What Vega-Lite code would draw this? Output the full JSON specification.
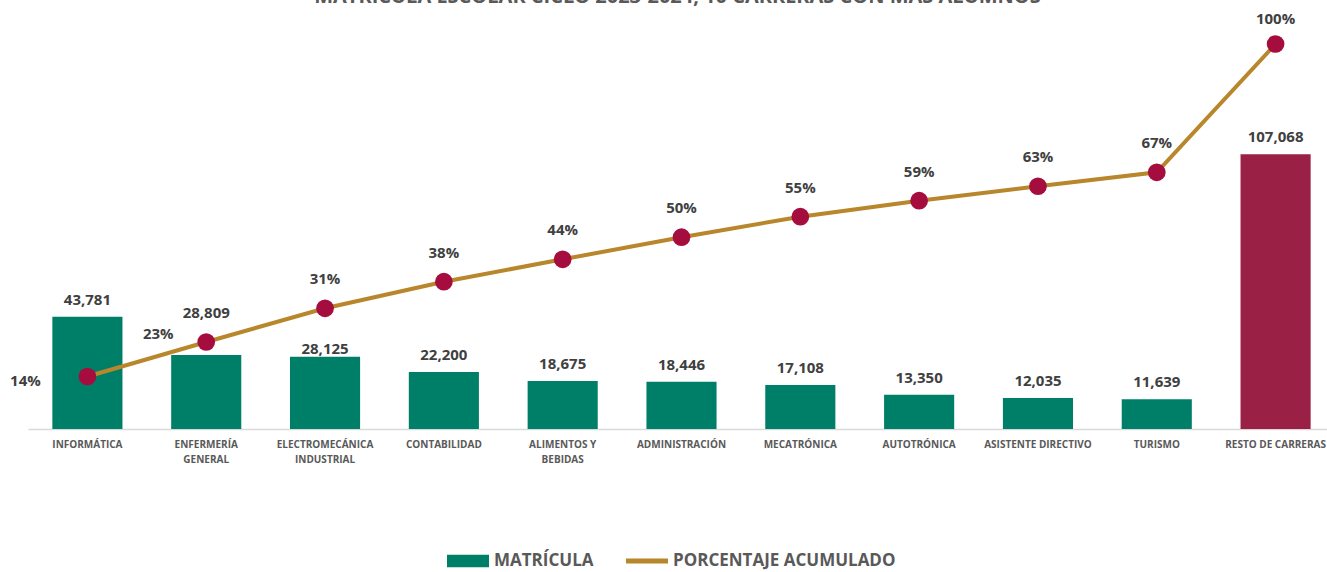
{
  "$schema": "https://vega.github.io/schema/vega-lite/v6.json",
  "autosize": {"type": "none"},
  "width": 1299,
  "height": 385,
  "padding": {"left": 28, "top": 44, "right": 0, "bottom": 143},
  "background": "white",
  "title": {"text": "MATRÍCULA ESCOLAR CICLO 2023-2024, 10 CARRERAS CON MÁS ALUMNOS", "font": "Open Sans", "fontSize": 20, "fontWeight": "bold", "color": "#595959", "anchor": "middle", "offset": 8, "dy": 19, "baseline": "alphabetic"},
  "config": {
    "view": {"stroke": null},
    "axis": {"grid": false, "ticks": false},
    "text": {"font": "Open Sans", "fontWeight": "bold", "fontSize": 15, "color": "#404040", "baseline": "alphabetic"}
  },
  "data": {"values": [
    {"carrera": "INFORMÁTICA", "matricula": 43781, "pct": 0.1363, "grupo": "MATRÍCULA"},
    {"carrera": "ENFERMERÍA GENERAL", "matricula": 28809, "pct": 0.2260, "grupo": "MATRÍCULA"},
    {"carrera": "ELECTROMECÁNICA INDUSTRIAL", "matricula": 28125, "pct": 0.3135, "grupo": "MATRÍCULA"},
    {"carrera": "CONTABILIDAD", "matricula": 22200, "pct": 0.3826, "grupo": "MATRÍCULA"},
    {"carrera": "ALIMENTOS Y BEBIDAS", "matricula": 18675, "pct": 0.4408, "grupo": "MATRÍCULA"},
    {"carrera": "ADMINISTRACIÓN", "matricula": 18446, "pct": 0.4982, "grupo": "MATRÍCULA"},
    {"carrera": "MECATRÓNICA", "matricula": 17108, "pct": 0.5514, "grupo": "MATRÍCULA"},
    {"carrera": "AUTOTRÓNICA", "matricula": 13350, "pct": 0.5930, "grupo": "MATRÍCULA"},
    {"carrera": "ASISTENTE DIRECTIVO", "matricula": 12035, "pct": 0.6305, "grupo": "MATRÍCULA"},
    {"carrera": "TURISMO", "matricula": 11639, "pct": 0.6667, "grupo": "MATRÍCULA"},
    {"carrera": "RESTO DE CARRERAS", "matricula": 107068, "pct": 1.0, "grupo": "RESTO"}
  ]},
  "encoding": {
    "x": {
      "field": "carrera", "type": "nominal", "sort": null, "title": null,
      "scale": {"range": [0, 1307], "paddingInner": 0.41, "paddingOuter": 0.205},
      "axis": {
        "labelAngle": 0, "labelFont": "Open Sans", "labelFontWeight": "bold", "labelFontSize": 10,
        "labelColor": "#595959", "labelPadding": 10, "labelLineHeight": 15,
        "domainColor": "#D9D9D9", "domainWidth": 1.5, "ticks": false,
        "labelExpr": "datum.label == 'ENFERMERÍA GENERAL' ? ['ENFERMERÍA','GENERAL'] : datum.label == 'ELECTROMECÁNICA INDUSTRIAL' ? ['ELECTROMECÁNICA','INDUSTRIAL'] : datum.label == 'ALIMENTOS Y BEBIDAS' ? ['ALIMENTOS Y','BEBIDAS'] : datum.label"
      }
    }
  },
  "layer": [
    {
      "mark": {"type": "bar"},
      "encoding": {
        "y": {"field": "matricula", "type": "quantitative", "scale": {"domain": [0, 150000]}, "axis": null},
        "color": {
          "field": "grupo", "type": "nominal",
          "scale": {"domain": ["MATRÍCULA", "PORCENTAJE ACUMULADO", "RESTO"], "range": ["#007F68", "#B8862B", "#9B2046"]},
          "legend": {
            "title": null, "orient": "none", "direction": "horizontal", "legendX": 419, "legendY": 496,
            "values": ["MATRÍCULA", "PORCENTAJE ACUMULADO"],
            "labelFont": "Open Sans", "labelFontWeight": "bold", "labelFontSize": 17, "labelColor": "#595959",
            "labelLimit": 400, "labelOffset": 5, "columnPadding": 32, "symbolSize": 1764, "symbolStrokeWidth": 0,
            "encode": {"symbols": {"update": {
              "shape": {"signal": "datum.value === 'MATRÍCULA' ? 'M-1,-0.3H1V0.3H-1Z' : 'M-1,-0.12H1V0.12H-1Z'"},
              "fill": {"scale": "color", "field": "value"},
              "stroke": {"value": "transparent"},
              "opacity": {"value": 1}
            }}}
          }
        }
      }
    },
    {
      "transform": [{"filter": "datum.carrera != 'ENFERMERÍA GENERAL' && datum.carrera != 'ELECTROMECÁNICA INDUSTRIAL'"}],
      "mark": {"type": "text", "dy": -12},
      "encoding": {
        "y": {"field": "matricula", "type": "quantitative", "scale": {"domain": [0, 150000]}, "axis": null},
        "text": {"field": "matricula", "type": "quantitative", "format": ",.0f"}
      }
    },
    {
      "transform": [{"filter": "datum.carrera == 'ENFERMERÍA GENERAL'"}],
      "mark": {"type": "text", "dy": -37},
      "encoding": {
        "y": {"field": "matricula", "type": "quantitative", "scale": {"domain": [0, 150000]}, "axis": null},
        "text": {"field": "matricula", "type": "quantitative", "format": ",.0f"}
      }
    },
    {
      "transform": [{"filter": "datum.carrera == 'ELECTROMECÁNICA INDUSTRIAL'"}],
      "mark": {"type": "text", "dy": -3},
      "encoding": {
        "y": {"field": "matricula", "type": "quantitative", "scale": {"domain": [0, 150000]}, "axis": null},
        "text": {"field": "matricula", "type": "quantitative", "format": ",.0f"}
      }
    },
    {
      "mark": {"type": "line", "strokeWidth": 4},
      "encoding": {
        "y": {"field": "pct", "type": "quantitative", "scale": {"domain": [0, 1]}, "axis": null},
        "color": {"datum": "PORCENTAJE ACUMULADO"}
      }
    },
    {
      "mark": {"type": "circle", "size": 314, "opacity": 1, "color": "#A50D3F"},
      "encoding": {
        "y": {"field": "pct", "type": "quantitative", "scale": {"domain": [0, 1]}, "axis": null}
      }
    },
    {
      "transform": [{"filter": "datum.pct > 0.3 && datum.pct < 0.99"}],
      "mark": {"type": "text", "dy": -24},
      "encoding": {
        "y": {"field": "pct", "type": "quantitative", "scale": {"domain": [0, 1]}, "axis": null},
        "text": {"field": "pct", "type": "quantitative", "format": ".0%"}
      }
    },
    {
      "transform": [{"filter": "datum.carrera == 'INFORMÁTICA'"}],
      "mark": {"type": "text", "dx": -62, "dy": 9},
      "encoding": {
        "y": {"field": "pct", "type": "quantitative", "scale": {"domain": [0, 1]}, "axis": null},
        "text": {"field": "pct", "type": "quantitative", "format": ".0%"}
      }
    },
    {
      "transform": [{"filter": "datum.carrera == 'ENFERMERÍA GENERAL'"}],
      "mark": {"type": "text", "dx": -48, "dy": -3},
      "encoding": {
        "y": {"field": "pct", "type": "quantitative", "scale": {"domain": [0, 1]}, "axis": null},
        "text": {"field": "pct", "type": "quantitative", "format": ".0%"}
      }
    },
    {
      "transform": [{"filter": "datum.pct >= 0.99"}],
      "mark": {"type": "text", "dy": -20},
      "encoding": {
        "y": {"field": "pct", "type": "quantitative", "scale": {"domain": [0, 1]}, "axis": null},
        "text": {"field": "pct", "type": "quantitative", "format": ".0%"}
      }
    }
  ],
  "resolve": {"scale": {"y": "independent"}}
}
